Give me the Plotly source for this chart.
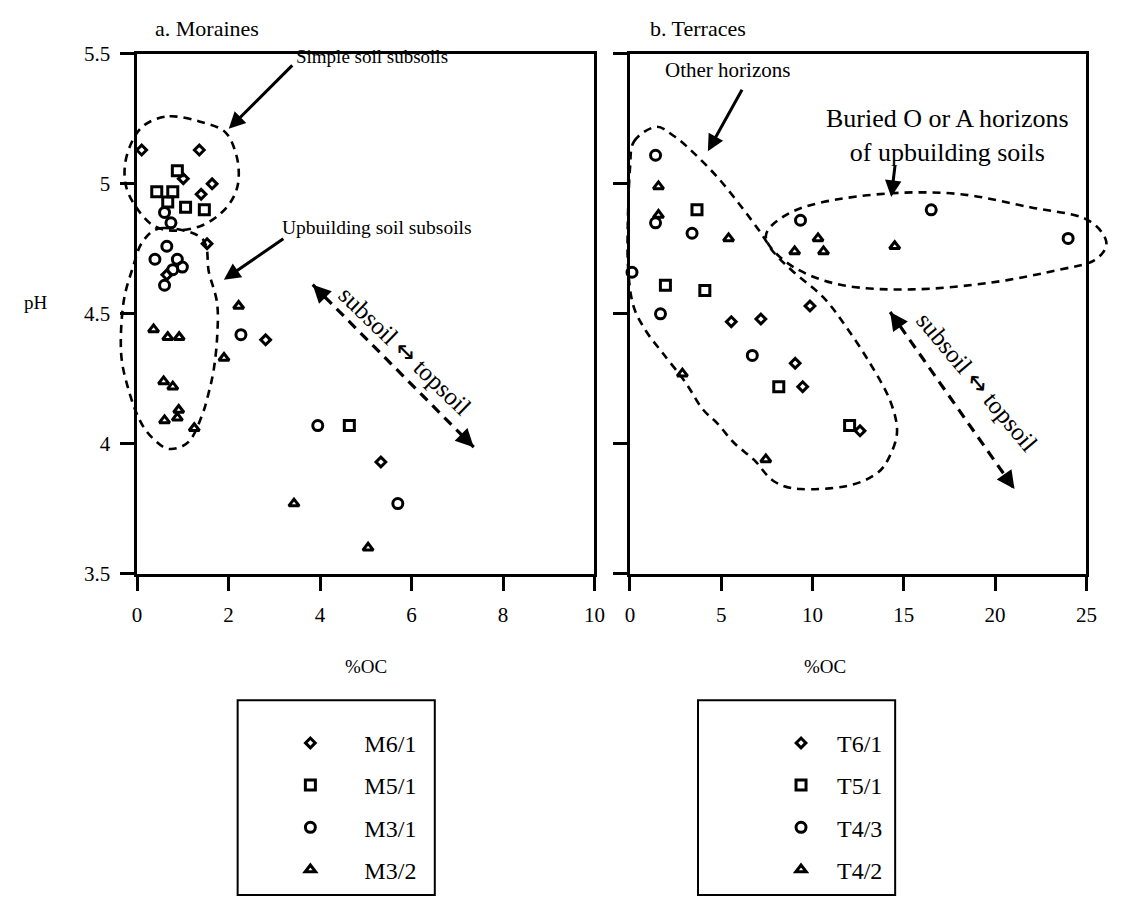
import plotly.graph_objects as go

# ---- Moraines: %OC vs pH ----
m61_oc = [0.10, 1.36, 1.01, 1.40, 1.64, 1.53, 0.65, 2.81, 5.33]
m61_ph = [5.13, 5.13, 5.02, 4.96, 5.00, 4.77, 4.65, 4.40, 3.93]
m51_oc = [0.88, 0.43, 0.78, 0.67, 1.06, 1.47, 4.64]
m51_ph = [5.05, 4.97, 4.97, 4.93, 4.91, 4.90, 4.07]
m31_oc = [0.60, 0.74, 0.65, 0.39, 0.88, 0.78, 0.99, 0.60, 2.27, 3.95, 5.70]
m31_ph = [4.89, 4.85, 4.76, 4.71, 4.71, 4.67, 4.68, 4.61, 4.42, 4.07, 3.77]
m32_oc = [2.22, 0.36, 0.67, 0.92, 1.90, 0.58, 0.78, 0.91, 0.88, 0.60, 1.25, 3.43, 5.05]
m32_ph = [4.53, 4.44, 4.41, 4.41, 4.33, 4.24, 4.22, 4.13, 4.10, 4.09, 4.06, 3.77, 3.60]

# ---- Terraces: %OC vs pH ----
t61_oc = [5.55, 7.17, 9.86, 9.05, 9.46, 12.6]
t61_ph = [4.47, 4.48, 4.53, 4.31, 4.22, 4.05]
t51_oc = [3.67, 1.94, 4.10, 8.15, 12.03]
t51_ph = [4.90, 4.61, 4.59, 4.22, 4.07]
t43_oc = [1.40, 1.40, 3.40, 0.11, 1.67, 6.70, 9.34, 16.5, 24.0]
t43_ph = [5.11, 4.85, 4.81, 4.66, 4.50, 4.34, 4.86, 4.90, 4.79]
t42_oc = [1.56, 1.56, 5.40, 9.02, 10.3, 10.6, 14.5, 2.87, 7.44]
t42_ph = [4.99, 4.88, 4.79, 4.74, 4.79, 4.74, 4.76, 4.27, 3.94]

x_ticks_a = [0, 2, 4, 6, 8, 10]
x_ticks_b = [0, 5, 10, 15, 20, 25]
y_ticks = [3.5, 4, 4.5, 5, 5.5]

W, H = 1125, 911
FONT = "Liberation Serif, Times New Roman, serif"
DOM_A = [134 / W, 598 / W]
DOM_B = [634 / W, 1097 / W]
DOM_Y = [1 - 577 / H, 1 - 43 / H]
RANGE_A = [0, 10]
RANGE_B = [0, 25]
RANGE_Y = [3.5, 5.5]


def to_paper(panel, x, y):
    dom, rng = (DOM_A, RANGE_A) if panel == "a" else (DOM_B, RANGE_B)
    px = dom[0] + (x - rng[0]) / (rng[1] - rng[0]) * (dom[1] - dom[0])
    py = DOM_Y[0] + (y - RANGE_Y[0]) / (RANGE_Y[1] - RANGE_Y[0]) * (DOM_Y[1] - DOM_Y[0])
    return px, py


def smooth_closed_path(panel, pts):
    """Closed Catmull-Rom curve through the given (x, pH) points, in paper coords."""
    P = [to_paper(panel, x, y) for x, y in pts]
    n = len(P)
    d = "M %.5f %.5f" % P[0]
    for i in range(n):
        p0, p1, p2, p3 = P[i - 1], P[i], P[(i + 1) % n], P[(i + 2) % n]
        c1 = (p1[0] + (p2[0] - p0[0]) / 6, p1[1] + (p2[1] - p0[1]) / 6)
        c2 = (p2[0] - (p3[0] - p1[0]) / 6, p2[1] - (p3[1] - p1[1]) / 6)
        d += " C %.5f %.5f %.5f %.5f %.5f %.5f" % (c1[0], c1[1], c2[0], c2[1], p2[0], p2[1])
    return d + " Z"


# group outlines (in %OC, pH units)
simple_outline = [(0.71, 5.26), (1.36, 5.24), (1.92, 5.20), (2.17, 5.11), (2.22, 5.02),
                  (2.11, 4.95), (1.85, 4.89), (1.42, 4.84), (0.84, 4.82), (0.35, 4.84),
                  (-0.02, 4.91), (-0.24, 4.99), (-0.26, 5.08), (-0.09, 5.17), (0.19, 5.23)]
upbuild_outline = [(0.56, 4.83), (1.42, 4.79), (1.57, 4.66), (1.75, 4.54), (1.75, 4.41),
                   (1.68, 4.29), (1.57, 4.20), (1.42, 4.11), (1.14, 4.01), (0.71, 3.98),
                   (0.35, 4.02), (0.06, 4.09), (-0.19, 4.21), (-0.35, 4.35), (-0.30, 4.54),
                   (-0.09, 4.68), (0.13, 4.78)]
buried_outline = [(7.45, 4.79), (8.42, 4.875), (10.58, 4.93), (14.36, 4.964), (18.14, 4.96),
                  (21.92, 4.91), (24.89, 4.867), (26.08, 4.78), (25.43, 4.706), (23.54, 4.67),
                  (19.76, 4.62), (15.44, 4.594), (11.66, 4.61), (8.96, 4.68)]
other_outline = [(0.22, 5.163), (1.40, 5.219), (2.38, 5.185), (3.40, 5.125), (4.81, 5.024),
                 (6.10, 4.912), (7.18, 4.81), (7.88, 4.736), (8.96, 4.661), (10.58, 4.564),
                 (11.83, 4.451), (13.12, 4.313), (14.20, 4.174), (14.63, 4.051), (14.20, 3.949),
                 (13.44, 3.882), (11.83, 3.837), (9.34, 3.826), (7.88, 3.856), (6.80, 3.938),
                 (5.72, 4.002), (4.81, 4.077), (3.94, 4.137), (3.02, 4.238), (1.78, 4.35),
                 (0.86, 4.436), (0.16, 4.537), (-0.11, 4.687), (-0.11, 4.875), (0.0, 5.06)]

# subsoil <-> topsoil trend arrows (start, end) in data units
trend_a = [(3.84, 4.612), (7.36, 3.987)]
trend_b = [(14.25, 4.507), (21.06, 3.826)]

SYMBOLS = {"6/1": ("diamond-open", 7.5), "5/1": ("square-open", 10),
           "3/1": ("circle-open", 10), "4/3": ("circle-open", 10),
           "3/2": ("triangle-up-open", 9), "4/2": ("triangle-up-open", 9)}

fig = go.Figure()


def add_series(name, xs, ys, key, xa, ya, legend, group):
    sym, size = SYMBOLS[key]
    fig.add_trace(go.Scatter(
        x=xs, y=ys, mode="markers", name=name, xaxis=xa, yaxis=ya,
        legend=legend, legendgroup=group, cliponaxis=False,
        marker=dict(symbol=sym, size=size, color="black",
                    line=dict(color="black", width=3))))


add_series("M6/1", m61_oc, m61_ph, "6/1", "x", "y", "legend", "a1")
add_series("M5/1", m51_oc, m51_ph, "5/1", "x", "y", "legend", "a2")
add_series("M3/1", m31_oc, m31_ph, "3/1", "x", "y", "legend", "a3")
add_series("M3/2", m32_oc, m32_ph, "3/2", "x", "y", "legend", "a4")
add_series("T6/1", t61_oc, t61_ph, "6/1", "x2", "y2", "legend2", "b1")
add_series("T5/1", t51_oc, t51_ph, "5/1", "x2", "y2", "legend2", "b2")
add_series("T4/3", t43_oc, t43_ph, "4/3", "x2", "y2", "legend2", "b3")
add_series("T4/2", t42_oc, t42_ph, "4/2", "x2", "y2", "legend2", "b4")

shapes = []
dash_line = dict(color="black", width=2.6, dash="8px,6px")
for panel, outline in (("a", simple_outline), ("a", upbuild_outline),
                       ("b", buried_outline), ("b", other_outline)):
    shapes.append(dict(type="path", xref="paper", yref="paper",
                       path=smooth_closed_path(panel, outline), line=dash_line))

for (xr, yr), seg in ((("x", "y"), trend_a), (("x2", "y2"), trend_b)):
    (x0, y0), (x1, y1) = seg
    shapes.append(dict(type="line", xref=xr, yref=yr, x0=x0, y0=y0, x1=x1, y1=y1,
                       line=dict(color="black", width=3.2, dash="10px,7px")))

# legend frames
for left in (236, 703):
    shapes.append(dict(type="rect", xref="paper", yref="paper",
                       x0=left / W, x1=(left + 200) / W, y0=1 - 907 / H, y1=1 - 707 / H,
                       line=dict(color="black", width=2)))

annotations = []


def label(text, x, y, size=19, xanchor="center"):
    annotations.append(dict(text=text, x=x, y=y, xref="paper", yref="paper",
                            showarrow=False, xanchor=xanchor, yanchor="middle",
                            font=dict(family=FONT, size=size, color="black")))


def pointer(x, y, ax, ay):
    annotations.append(dict(text="", x=x, y=y, xref="paper", yref="paper",
                            ax=ax, ay=ay, showarrow=True, arrowhead=2, arrowsize=1.1,
                            arrowwidth=3, arrowcolor="black", standoff=0))


label("a. Moraines", 150 / W, 1 - 17 / H, size=22, xanchor="left")
label("b. Terraces", 652 / W, 1 - 17 / H, size=22, xanchor="left")
label("pH", 31 / W, 1 - 298 / H, size=19)
label("%OC", 366 / W, 1 - 672 / H, size=19)
label("%OC", 832 / W, 1 - 672 / H, size=19)

label("Simple soil subsoils", 372 / W, 1 - 46 / H, size=19)
pointer(227 / W, 1 - 120 / H, 65, -65)
label("Upbuilding soil subsoils", 377 / W, 1 - 221 / H, size=19.5)
pointer(222 / W, 1 - 275 / H, 61, -42)
label("Other horizons", 733 / W, 1 - 60 / H, size=21)
pointer(713 / W, 1 - 143 / H, 35, -63)
label("Buried O or A horizons<br>of upbuilding soils", 956 / W, 1 - 127 / H, size=26)
pointer(899 / W, 1 - 190 / H, 4, -33)

# trend arrow heads and labels
ARROW = "<span style='font-family:DejaVu Sans'>\u2194</span>"
for (xr, yr), seg, center, angle in ((("x", "y"), trend_a, (5.85, 4.36), 44),
                                     (("x2", "y2"), trend_b, (19.0, 4.24), 50)):
    (x0, y0), (x1, y1) = seg
    for (hx, hy), (ox, oy) in (((x0, y0), (x1, y1)), ((x1, y1), (x0, y0))):
        annotations.append(dict(text="", x=hx, y=hy, xref=xr, yref=yr,
                                ax=hx + 0.09 * (ox - hx), ay=hy + 0.09 * (oy - hy),
                                axref=xr, ayref=yr, showarrow=True, arrowhead=2,
                                arrowsize=1.2, arrowwidth=3, arrowcolor="black", standoff=0))
    annotations.append(dict(text="subsoil " + ARROW + " topsoil", x=center[0], y=center[1],
                            xref=xr, yref=yr, showarrow=False, textangle=angle,
                            font=dict(family=FONT, size=25, color="black")))

axis_common = dict(showline=True, linecolor="black", linewidth=2.5, mirror=True,
                   ticks="outside", ticklen=14, tickwidth=2.5, tickcolor="black",
                   showgrid=False, zeroline=False, ticklabelstandoff=6,
                   tickfont=dict(family=FONT, size=21, color="black"))

legend_common = dict(xanchor="left", yanchor="top", bgcolor="rgba(0,0,0,0)",
                     borderwidth=0, tracegroupgap=8,
                     font=dict(family=FONT, size=24, color="black"))

fig.update_layout(
    width=W, height=H, margin=dict(l=0, r=0, t=0, b=0),
    paper_bgcolor="white", plot_bgcolor="white",
    font=dict(family=FONT, size=18, color="black"),
    xaxis=dict(domain=DOM_A, range=RANGE_A, tickvals=x_ticks_a, anchor="y", **axis_common),
    yaxis=dict(domain=DOM_Y, range=RANGE_Y, tickvals=y_ticks, anchor="x", **axis_common),
    xaxis2=dict(domain=DOM_B, range=RANGE_B, tickvals=x_ticks_b, anchor="y2", **axis_common),
    yaxis2=dict(domain=DOM_Y, range=RANGE_Y, tickvals=y_ticks, anchor="x2",
                showticklabels=False, **axis_common),
    legend=dict(x=255 / W, y=1 - 728 / H, itemwidth=98, **legend_common),
    legend2=dict(x=771 / W, y=1 - 728 / H, itemwidth=62, **legend_common),
    shapes=shapes, annotations=annotations,
)

fig.write_html("out.html")
